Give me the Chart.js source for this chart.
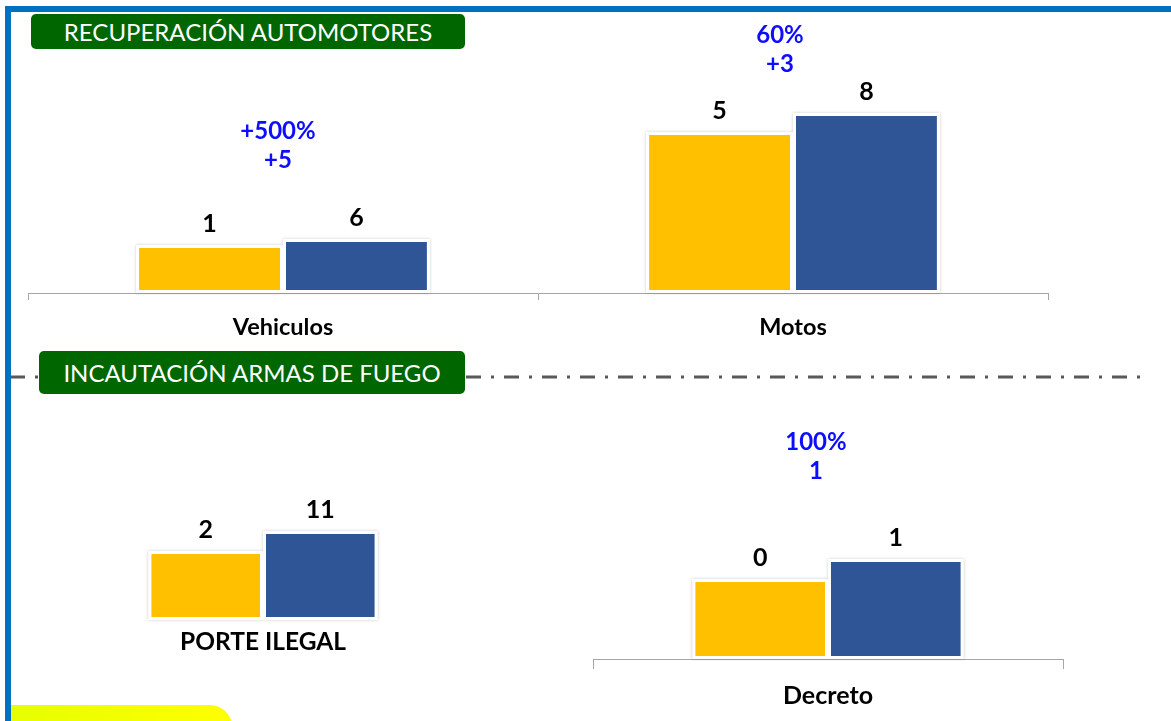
<!DOCTYPE html>
<html lang="es">
<head>
<meta charset="utf-8">
<title>Recuperación automotores e incautación armas de fuego</title>
<script src="https://cdn.jsdelivr.net/npm/chart.js@4.4.1/dist/chart.umd.min.js"></script>
<style>
  html, body { margin: 0; padding: 0; background: #fff; }
  #slide { position: relative; width: 1171px; height: 721px; overflow: hidden; font-family: Lato, "Open Sans", sans-serif; }
  .frame { position: absolute; background: #0070C0; z-index: 3; }
  .header { position: absolute; background: #006600; color: #fff; border-radius: 5px; font-size: 24px;
            display: flex; align-items: center; justify-content: center; z-index: 2; }
  .note { position: absolute; width: 200px; text-align: center; color: #0d0dff; font-weight: bold;
          font-size: 24px; line-height: 29px; white-space: pre; z-index: 2; }
  canvas { position: absolute; }
  #sep { position: absolute; left: 0; top: 370px; z-index: 1; }
  #yellow { position: absolute; left: 11px; top: 705px; width: 221px; height: 30px; border-top-right-radius: 22px;
            background: linear-gradient(90deg, #e6ff00, #ffff00); }
</style>
</head>
<body>
<div id="slide">
  <div class="frame" style="left:5px; top:6px; width:6px; height:715px;"></div>
  <div class="frame" style="left:5px; top:6px; width:1166px; height:6px;"></div>

  <div class="header" style="left:31px; top:14px; width:434px; height:35px;">RECUPERACIÓN AUTOMOTORES</div>

  <svg id="sep" width="1171" height="14">
    <line x1="10" y1="7" x2="1140" y2="7" stroke="#595959" stroke-width="3" stroke-dasharray="15 10 3 10"/>
  </svg>
  <div class="header" style="left:39px; top:351px; width:426px; height:43px;">INCAUTACIÓN ARMAS DE FUEGO</div>

  <canvas id="autos" width="1025" height="300" style="left:26px; top:40px;"></canvas>
  <canvas id="porte" width="326" height="290" style="left:100px; top:380px;"></canvas>
  <canvas id="decreto" width="476" height="290" style="left:590px; top:420px;"></canvas>

  <div class="note" style="left:178px; top:115px;">+500%
+5</div>
  <div class="note" style="left:680px; top:19px;">60%
+3</div>
  <div class="note" style="left:716px; top:426px;">100%
1</div>

  <div id="yellow"></div>
</div>

<script>
    "use strict";

    // Recuperación automotores
    var autoCats = ["Vehiculos", "Motos"];
    var autoPrev = [1, 5];          // amarillo (etiqueta)
    var autoCurr = [6, 8];          // azul (etiqueta)
    // the slide's bars are not drawn to scale, so bar lengths are read off the picture (0-200)
    var autoPrevBar = [48, 161];
    var autoCurrBar = [54, 180];

    // Incautación armas de fuego
    var porteCats = ["PORTE ILEGAL"];
    var portePrev = [2];
    var porteCurr = [11];
    var portePrevBar = [69];
    var porteCurrBar = [89];

    var decretoCats = ["Decreto"];
    var decretoPrev = [0];
    var decretoCurr = [1];
    var decretoPrevBar = [80];
    var decretoCurrBar = [100];

    var YELLOW = "#FFC000";
    var BLUE = "#2F5597";

    // white box with soft shadow behind every bar
    var barShadow = {
        id: "barShadow",
        beforeDatasetsDraw: function (chart) {
            var ctx = chart.ctx;
            ctx.save();
            ctx.shadowColor = "rgba(0,0,0,0.2)";
            ctx.shadowBlur = 3;
            ctx.fillStyle = "#fff";
            chart.data.datasets.forEach(function (ds, i) {
                chart.getDatasetMeta(i).data.forEach(function (el) {
                    ctx.fillRect(el.x - el.width / 2, el.y, el.width, el.base - el.y);
                });
            });
            ctx.restore();
        }
    };

    // count labels above the bars
    var countLabels = {
        id: "countLabels",
        afterDatasetsDraw: function (chart) {
            var ctx = chart.ctx;
            ctx.save();
            ctx.font = "bold 25px Lato";
            ctx.fillStyle = "#000";
            ctx.textAlign = "center";
            ctx.textBaseline = "alphabetic";
            chart.data.datasets.forEach(function (ds, i) {
                chart.getDatasetMeta(i).data.forEach(function (el, j) {
                    ctx.fillText(String(ds.counts[j]), el.x, el.y - 13);
                });
            });
            ctx.restore();
        }
    };

    function makeChart(id, cats, prevBar, currBar, prev, curr, o) {
        var ctx = document.getElementById(id).getContext("2d");
        return new Chart(ctx, {
            type: "bar",
            data: {
                labels: cats,
                datasets: [{
                        data: prevBar,
                        counts: prev,
                        backgroundColor: YELLOW,
                        borderColor: "#fff",
                        borderWidth: 3,
                        borderSkipped: false
                    },
                    {
                        data: currBar,
                        counts: curr,
                        backgroundColor: BLUE,
                        borderColor: "#fff",
                        borderWidth: 3,
                        borderSkipped: false
                    }
                ]
            },
            options: {
                responsive: false,
                animation: false,
                categoryPercentage: o.cat,
                barPercentage: 1,
                layout: { padding: { left: o.padL, right: o.padR, top: o.padT, bottom: 0 } },
                plugins: { legend: { display: false }, tooltip: { enabled: false } },
                scales: {
                    y: { display: false, min: 0, max: 200 },
                    x: {
                        grid: {
                            display: o.axis,
                            offset: true,
                            drawOnChartArea: false,
                            drawTicks: o.axis,
                            tickLength: o.tick,
                            color: "#a6a6a6"
                        },
                        border: { display: o.axis, color: "#a6a6a6", width: 1 },
                        ticks: { color: "#000", font: { family: "Lato", size: o.font, weight: "bold" }, padding: o.tickPad },
                        afterFit: function (s) { s.height = o.axisH; }
                    }
                }
            },
            plugins: [barShadow, countLabels]
        });
    }

    function draw() {
        makeChart("autos", autoCats, autoPrevBar, autoCurrBar, autoPrev, autoCurr,
            { cat: 0.576, padL: 2, padR: 3, padT: 53, axis: true, tick: 7, tickPad: 13, font: 23.5, axisH: 47 });
        makeChart("porte", porteCats, portePrevBar, porteCurrBar, portePrev, porteCurr,
            { cat: 0.703, padL: 0, padR: 0, padT: 40, axis: false, tick: 0, tickPad: 7, font: 24.5, axisH: 50 });
        makeChart("decreto", decretoCats, decretoPrevBar, decretoCurrBar, decretoPrev, decretoCurr,
            { cat: 0.577, padL: 3, padR: 3, padT: 39, axis: true, tick: 10, tickPad: 12, font: 25, axisH: 51 });
    }

    Chart.defaults.font.family = "Lato";
    if (document.fonts && document.fonts.load) {
        Promise.all([document.fonts.load("bold 24px Lato"), document.fonts.load("24px Lato")])
            .then(draw, draw);
    } else {
        draw();
    }
</script>
</body>
</html>
